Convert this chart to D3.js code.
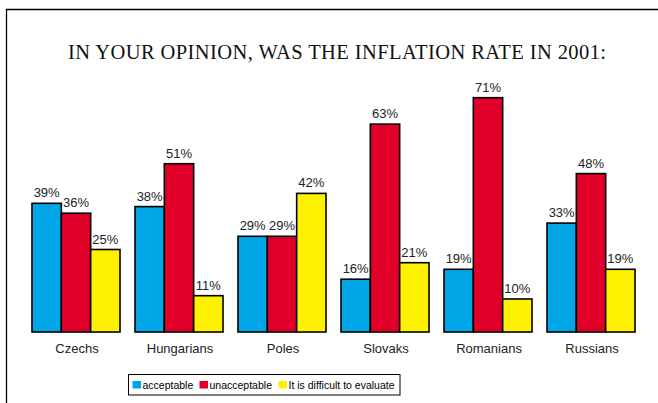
<!DOCTYPE html>
<html>
<head>
<meta charset="utf-8">
<script src="https://cdn.jsdelivr.net/npm/d3@7"></script>
<style>
  html, body { margin: 0; padding: 0; background: #fff; }
  svg { display: block; }
</style>
</head>
<body>
<svg id="chart" width="658" height="403"></svg>
<script>
const title = "IN YOUR OPINION, WAS THE INFLATION RATE IN 2001:";
const categories = ["Czechs", "Hungarians", "Poles", "Slovaks", "Romanians", "Russians"];
const seriesNames = ["acceptable", "unacceptable", "It is difficult to evaluate"];
const acceptable = [39, 38, 29, 16, 19, 33];
const unacceptable = [36, 51, 29, 63, 71, 48];
const difficult = [25, 11, 42, 21, 10, 19];
const seriesColors = ["#00a6e6", "#e0002a", "#fff200"];

const seriesValues = [acceptable, unacceptable, difficult];
const svg = d3.select("#chart");

// frame
svg.append("path")
  .attr("d", "M6.5,403 V9.5 H658")
  .attr("fill", "none").attr("stroke", "#000").attr("stroke-width", 1.3);

svg.append("text")
  .attr("x", 337).attr("y", 58.5)
  .attr("text-anchor", "middle")
  .attr("font-family", "'Liberation Serif', 'Times New Roman', serif")
  .attr("font-size", 20.5)
  .attr("textLength", 538)
  .attr("lengthAdjust", "spacing")
  .attr("fill", "#111")
  .text(title);

const x0 = d3.scaleBand().domain(categories).range([24.5, 642.5])
  .paddingInner(15 / 103).paddingOuter(7.5 / 103);
const x1 = d3.scaleBand().domain(d3.range(seriesNames.length)).range([0, x0.bandwidth()]);
const y = d3.scaleLinear().domain([0, 100]).range([332, 2]);

const data = [];
categories.forEach((c, i) => {
  seriesValues.forEach((vals, s) => data.push({ c, s, v: vals[i] }));
});

const g = svg.append("g");
g.selectAll("rect.bar").data(data).enter().append("rect")
  .attr("class", "bar")
  .attr("x", d => x0(d.c) + x1(d.s))
  .attr("y", d => y(d.v))
  .attr("width", x1.bandwidth())
  .attr("height", d => y(0) - y(d.v))
  .attr("fill", d => seriesColors[d.s])
  .attr("stroke", "#000").attr("stroke-width", 1.6);

g.selectAll("text.val").data(data).enter().append("text")
  .attr("class", "val")
  .attr("x", d => x0(d.c) + x1(d.s) + x1.bandwidth() / 2)
  .attr("y", d => y(d.v) - 6)
  .attr("text-anchor", "middle")
  .attr("font-family", "'Liberation Sans', Arial, sans-serif")
  .attr("font-size", 13)
  .attr("fill", "#222")
  .text(d => d.v + "%");

const xAxis = d3.axisBottom(x0).tickSize(0).tickPadding(0);
const ax = svg.append("g").attr("transform", "translate(1,344)").call(xAxis);
ax.select(".domain").remove();
ax.selectAll("text")
  .attr("dy", "0.71em")
  .attr("y", 0)
  .attr("font-family", "'Liberation Sans', Arial, sans-serif")
  .attr("font-size", 13)
  .attr("fill", "#222");

// legend
const lg = svg.append("g");
lg.append("rect").attr("x", 128.5).attr("y", 374.5).attr("width", 271.5).attr("height", 20.5)
  .attr("fill", "#fff").attr("stroke", "#000").attr("stroke-width", 1);
const legendX = [132.5, 199.5, 278.5];
seriesNames.forEach((n, i) => {
  lg.append("rect").attr("x", legendX[i]).attr("y", 381).attr("width", 8.5).attr("height", 7.5)
    .attr("fill", seriesColors[i]);
  lg.append("text").attr("x", legendX[i] + 10).attr("y", 389)
    .attr("font-family", "'Liberation Sans', Arial, sans-serif")
    .attr("font-size", 10.5).attr("fill", "#000")
    .text(n);
});
</script>
</body>
</html>
